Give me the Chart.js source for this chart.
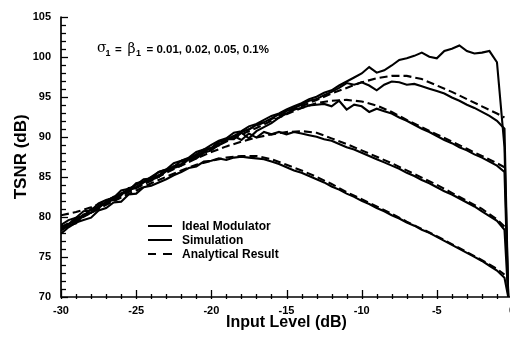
<!DOCTYPE html>
<html><head><meta charset="utf-8">
<script src="https://cdn.jsdelivr.net/npm/chart.js@4/dist/chart.umd.min.js"></script>
<style>
html,body{margin:0;padding:0;background:#fff;overflow:hidden;width:510px;height:339px}
#wrap{position:absolute;left:0;top:0;width:530px;height:339px}
</style>
</head><body><div id="wrap"><canvas id="c" width="530" height="339"></canvas></div>
<script>
// ---- tick labels ----
const xTicks = [-30, -25, -20, -15, -10, -5, 0];
const yTicks = [70, 75, 80, 85, 90, 95, 100, 105];

// ---- analytical result (dashed), x grid ----
const anaX = [-30,-29,-28,-27,-26,-25,-24,-23,-22,-21,-20,-19,-18,-17,-16,-15,-14,-13,-12,-11,-10,-9,-8,-7,-6,-5,-4,-3,-2,-1,-0.5];
const anaA = [78.5,79.5,80.5,81.5,82.4,83.3,84.2,85.0,85.8,86.5,87.0,87.4,87.6,87.6,87.2,86.5,85.8,85.0,84.1,83.1,82.2,81.3,80.4,79.4,78.5,77.6,76.6,75.6,74.6,73.5,72.8];
const anaB = [78.6,79.6,80.6,81.6,82.6,83.6,84.5,85.5,86.4,87.3,88.1,88.8,89.4,89.9,90.3,90.6,90.7,90.5,89.8,89.1,88.3,87.5,86.7,85.8,84.9,84.0,83.0,82.0,81.0,79.7,78.8];
const anaC = [78.7,79.7,80.7,81.7,82.7,83.7,84.7,85.7,86.6,87.6,88.5,89.4,90.3,91.1,92.0,92.8,93.6,94.2,94.5,94.6,94.4,93.9,93.1,92.1,91.2,90.3,89.4,88.5,87.6,86.7,86.2];
const anaD = [80.2,80.6,81.2,82.0,82.9,83.8,84.8,85.8,86.8,87.7,88.7,89.6,90.5,91.4,92.2,93.0,93.8,94.6,95.4,96.1,96.8,97.3,97.6,97.6,97.2,96.4,95.6,94.7,93.8,92.9,92.4];

// ---- simulation (solid), x grid ----
const simX = [-30,-29.5,-29,-28.5,-28,-27.5,-27,-26.5,-26,-25.5,
  -25,-24.5,-24,-23.5,-23,-22.5,-22,-21.5,-21,-20.5,
  -20,-19.5,-19,-18.5,-18,-17.5,-17,-16.5,-16,-15.5,
  -15,-14.5,-14,-13.5,-13,-12.5,-12,-11.5,-11,-10.5,
  -10,-9.5,-9,-8.5,-8,-7.5,-7,-6.5,-6,-5.5,
  -5,-4.5,-4,-3.5,-3,-2.5,-2,-1.5,-1,-0.5,-0.25];
const simIdeal = [78.3,78.9,79.2,80.2,80.5,81.4,81.7,82.3,82.9,83.3,
  84.2,84.4,85.0,85.6,85.9,86.7,87.0,87.4,88.1,88.4,
  89.0,89.5,89.8,90.5,90.7,91.3,91.6,92.1,92.6,92.9,
  93.4,93.8,94.2,94.7,95.0,95.5,95.8,96.4,96.9,97.4,
  97.9,98.7,98.0,98.3,98.9,99.6,99.8,100.1,100.5,100.0,
  99.8,100.7,101.0,101.4,100.7,100.4,100.5,100.7,99.3,88.7,70];
const simD = [79.0,79.6,79.9,80.7,80.8,81.7,82.1,82.4,83.3,83.5,
  84.0,84.7,84.8,85.6,85.9,86.2,87.0,87.3,87.8,88.4,
  88.6,89.4,89.6,90.1,90.6,90.9,91.5,91.8,92.3,92.8,
  93.2,93.6,94.0,94.5,94.7,95.2,95.6,96.1,96.7,96.5,
  96.8,96.4,95.8,96.5,96.9,96.8,96.5,96.6,96.3,96.0,
  95.7,95.4,94.9,94.5,94.0,93.6,93.1,92.6,92.0,91.0,70];
const simC = [78.7,79.1,79.9,80.1,81.0,81.2,81.9,82.5,82.7,83.6,
  83.7,84.4,84.9,85.0,85.8,86.3,86.5,87.3,87.5,88.2,
  88.6,88.9,89.7,89.7,90.5,89.8,90.7,91.2,91.7,92.4,
  92.9,93.4,93.6,93.9,94.0,94.1,93.8,94.5,93.4,94.0,
  93.8,93.1,93.5,93.2,92.9,92.4,92.0,91.5,91.0,90.6,
  90.1,89.6,89.2,88.7,88.3,87.8,87.4,86.9,86.4,85.6,70];
const simB = [78.4,79.1,79.5,80.3,80.5,81.1,81.9,82.1,82.9,83.4,
  83.6,84.4,84.6,85.0,85.7,86.1,86.4,87.2,87.3,88.0,
  88.3,89.0,89.6,90.1,89.6,90.4,89.9,90.6,90.3,90.6,
  90.3,90.6,90.4,90.2,90.0,89.7,89.5,89.1,88.7,88.4,
  88.0,87.6,87.2,86.8,86.4,86.0,85.5,85.1,84.6,84.2,
  83.7,83.2,82.8,82.3,81.8,81.3,80.7,80.1,79.5,78.4,70];
const simA = [77.9,78.7,79.3,79.6,79.9,80.8,81.1,81.8,81.9,82.8,
  82.9,83.7,83.9,84.3,84.7,85.2,85.6,86.1,86.3,86.9,
  87.0,87.3,87.1,87.4,87.5,87.4,87.3,87.2,86.9,86.6,
  86.2,85.8,85.5,85.1,84.7,84.3,83.8,83.4,82.9,82.5,
  82.0,81.6,81.1,80.7,80.2,79.8,79.3,78.9,78.4,78.0,
  77.5,77.0,76.5,76.0,75.5,75.0,74.5,73.9,73.3,72.4,70];

const legendLabels = ['Ideal Modulator', 'Simulation', 'Analytical Result'];
const paramText = ['\u03C3', '1', '=', '\u03B2', '1', '= 0.01, 0.02, 0.05, 0.1%'];

const FAM = "'Liberation Sans', Arial, Helvetica, sans-serif";
const SYM = "'DejaVu Serif', 'Liberation Serif', serif";

function mk(xs, ys, dashed) {
  return {
    data: xs.map((x, i) => ({x: x, y: ys[i]})),
    borderColor: '#000', backgroundColor: '#000',
    borderWidth: 2.1, borderDash: dashed ? [8, 4] : [],
    pointRadius: 0, showLine: true, fill: false, tension: 0
  };
}

const decor = {
  id: 'decor',
  afterDraw(chart) {
    const ctx = chart.ctx, a = chart.chartArea, x = chart.scales.x, y = chart.scales.y;
    ctx.save();
    ctx.strokeStyle = '#000'; ctx.fillStyle = '#000';
    ctx.setLineDash([]);
    ctx.lineWidth = 1.7;
    ctx.beginPath();
    ctx.moveTo(a.left, a.top); ctx.lineTo(a.left, a.bottom); ctx.lineTo(a.right + 2, a.bottom);
    ctx.stroke();
    ctx.lineWidth = 1.3;
    for (let v = 70; v <= 105; v++) {
      const py = Math.round(y.getPixelForValue(v)) + 0.5;
      const L = (v % 5 === 0) ? 7 : 5;
      ctx.beginPath(); ctx.moveTo(a.left, py); ctx.lineTo(a.left + L, py); ctx.stroke();
    }
    for (let v = -30; v <= 0; v++) {
      const px = Math.round(x.getPixelForValue(v)) + 0.5;
      const major = (v % 5 === 0);
      ctx.beginPath(); ctx.moveTo(px, a.bottom + 2); ctx.lineTo(px, a.bottom - (major ? 7 : 3)); ctx.stroke();
    }
    // legend
    const rows = [226, 240, 254];
    ctx.lineWidth = 2;
    for (let i = 0; i < 3; i++) {
      ctx.beginPath();
      if (i === 2) {
        ctx.moveTo(148, rows[i]); ctx.lineTo(156, rows[i]);
        ctx.moveTo(163, rows[i]); ctx.lineTo(172, rows[i]);
      } else {
        ctx.moveTo(148, rows[i]); ctx.lineTo(172, rows[i]);
      }
      ctx.stroke();
      ctx.font = 'bold 12px ' + FAM;
      ctx.textBaseline = 'middle'; ctx.textAlign = 'left';
      ctx.fillText(legendLabels[i], 182, rows[i] + 0.5);
    }
    // parameter annotation
    ctx.textBaseline = 'alphabetic';
    const base = 52.5;
    ctx.font = '14px ' + SYM;
    ctx.fillText(paramText[0], 97, base - 1);
    ctx.font = 'bold 9px ' + FAM;
    ctx.fillText(paramText[1], 105.5, base + 3);
    ctx.font = 'bold 11.5px ' + FAM;
    ctx.fillText(paramText[2], 115, base);
    ctx.font = '14px ' + SYM;
    ctx.fillText(paramText[3], 127.5, base);
    ctx.font = 'bold 9px ' + FAM;
    ctx.fillText(paramText[4], 136, base + 3);
    ctx.font = 'bold 11.5px ' + FAM;
    ctx.fillText(paramText[5], 146.5, base);
    ctx.restore();
  }
};

new Chart(document.getElementById('c'), {
  type: 'scatter',
  data: {
    datasets: [
      mk(anaX, anaA, true), mk(anaX, anaB, true), mk(anaX, anaC, true), mk(anaX, anaD, true),
      mk(simX, simA, false), mk(simX, simB, false), mk(simX, simC, false), mk(simX, simD, false),
      mk(simX, simIdeal, false)
    ]
  },
  options: {
    responsive: false, animation: false, devicePixelRatio: 1,
    layout: {padding: {left: 0, right: 18, top: 15, bottom: 0}},
    plugins: {legend: {display: false}, tooltip: {enabled: false}},
    scales: {
      x: {
        type: 'linear', min: -30, max: 0,
        afterBuildTicks: s => { s.ticks = xTicks.map(v => ({value: v})); },
        afterFit: s => { s.height = 42; },
        grid: {display: false, drawTicks: false}, border: {display: false},
        ticks: {color: '#000', font: {family: FAM, size: 11, weight: 'bold'}, padding: 7, maxRotation: 0, autoSkip: false},
        title: {display: true, text: 'Input Level (dB)', color: '#000', font: {family: FAM, size: 16, weight: 'bold'}, padding: {top: 0, bottom: 7}}
      },
      y: {
        type: 'linear', min: 70, max: 105,
        afterBuildTicks: s => { s.ticks = yTicks.map(v => ({value: v})); },
        afterFit: s => { s.width = 61; },
        grid: {display: false, drawTicks: false}, border: {display: false},
        ticks: {color: '#000', font: {family: FAM, size: 11, weight: 'bold'}, padding: 10, autoSkip: false},
        title: {display: true, text: 'TSNR (dB)', color: '#000', font: {family: FAM, size: 17, weight: 'bold'}, padding: {top: 11, bottom: 0}}
      }
    }
  },
  plugins: [decor]
});
</script>
</body></html>
